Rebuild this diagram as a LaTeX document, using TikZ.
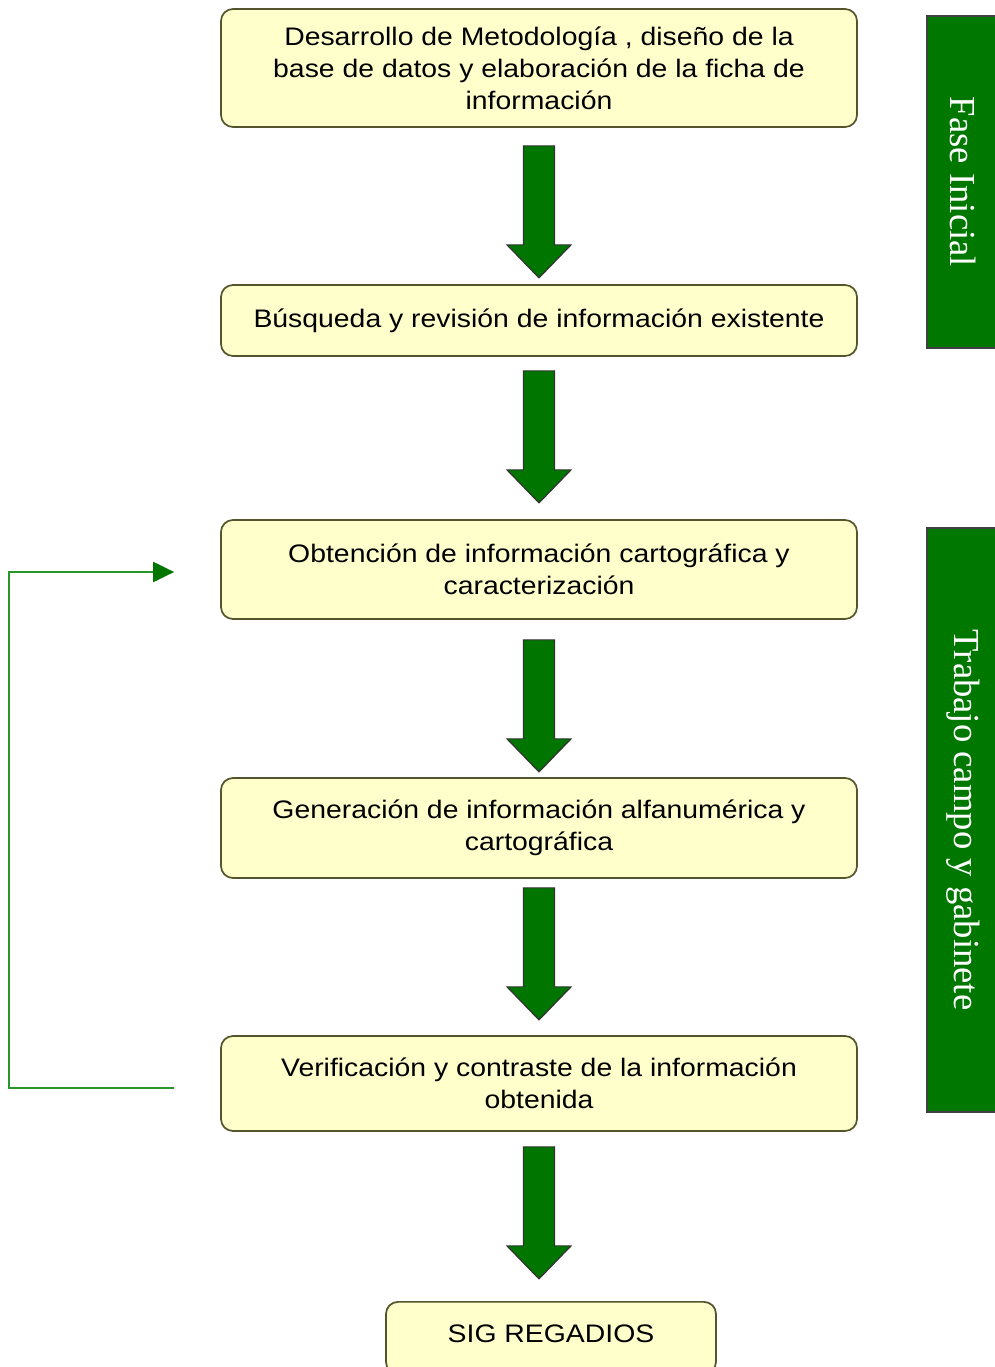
\documentclass[tikz,border=0pt]{standalone}
\usepackage{fontspec}
\usetikzlibrary{calc,arrows.meta}
\newfontfamily\boxfont[FakeStretch=1.12]{Liberation Sans}
\newfontfamily\barfont{Liberation Serif}
\definecolor{boxfill}{RGB}{255,255,204}
\definecolor{boxline}{RGB}{85,85,45}
\definecolor{bargreen}{RGB}{0,120,0}
\definecolor{arrgreen}{RGB}{0,118,0}
\definecolor{fbgreen}{RGB}{40,150,40}
\tikzset{
  stepbox/.style={draw=boxline, fill=boxfill, line width=1.3pt, rounded corners=9pt,
    align=center, inner sep=2pt, minimum width=477pt,
    font=\boxfont\fontsize{19}{24}\selectfont},
  phasebar/.style={draw=black!75, fill=bargreen, line width=1.2pt, rotate=-90,
    text=white, minimum height=54.75pt, inner sep=0pt,
    font=\barfont\fontsize{27.5}{30}\selectfont},
  blockarr/.pic={
    \draw[fill=arrgreen, draw=black!80, line width=0.9pt]
      (-15.5,0) -- (15.5,0) -- (15.5,99) -- (32,99) -- (0,132) -- (-32,99) -- (-15.5,99) -- cycle;
  },
  fbline/.style={draw=fbgreen, line width=1.6pt,
    -{Triangle[length=15.75pt, width=15pt, fill=arrgreen, color=arrgreen]}}
}
\begin{document}
\begin{tikzpicture}[x=0.75pt, y=-0.75pt]
\useasboundingbox (0,0) rectangle (995,1367);
\clip (0,0) rectangle (995,1367);

% boxes
\node[stepbox, minimum height=88.5pt] (b1) at (539,68)
  {Desarrollo de Metodología , diseño de la\\ base de datos y elaboración de la ficha de\\ información};
\node[stepbox, minimum height=53.25pt] (b2) at (539,320.5)
  {Búsqueda y revisión de información existente};
\node[stepbox, minimum height=74.25pt] (b3) at (539,569.5)
  {Obtención de información cartográfica y\\ caracterización};
\node[stepbox, minimum height=75pt] (b4) at (539,828)
  {Generación de información alfanumérica y\\ cartográfica};
\node[stepbox, minimum height=71.25pt] (b5) at (539,1083.5)
  {Verificación y contraste de la información\\ obtenida};
\node[stepbox, minimum width=247.5pt, minimum height=54pt, anchor=north] (b6) at (551,1301)
  {\raisebox{7pt}{SIG REGADIOS}};

% block arrows
\pic at ($(b1.south)+(0,18)$) {blockarr};
\pic at ($(b2.south)+(0,14)$) {blockarr};
\pic at ($(b3.south)+(0,20)$) {blockarr};
\pic at ($(b4.south)+(0,9)$) {blockarr};
\pic at ($(b5.south)+(0,15)$) {blockarr};

% phase bars
\node[phasebar, minimum width=249pt] (fase) at (963.5,182) {Fase Inicial};
\node[phasebar, minimum width=438pt] (trab) at (963.5,820) {Trabajo campo y gabinete};

% feedback loop
\coordinate (fbs) at ($(b5.west)+(-46,4.5)$);
\coordinate (fbe) at ($(b3.west)+(-46,2.5)$);
\draw[fbline] (fbs) -- ++(-165,0) |- (fbe);
\end{tikzpicture}
\end{document}
